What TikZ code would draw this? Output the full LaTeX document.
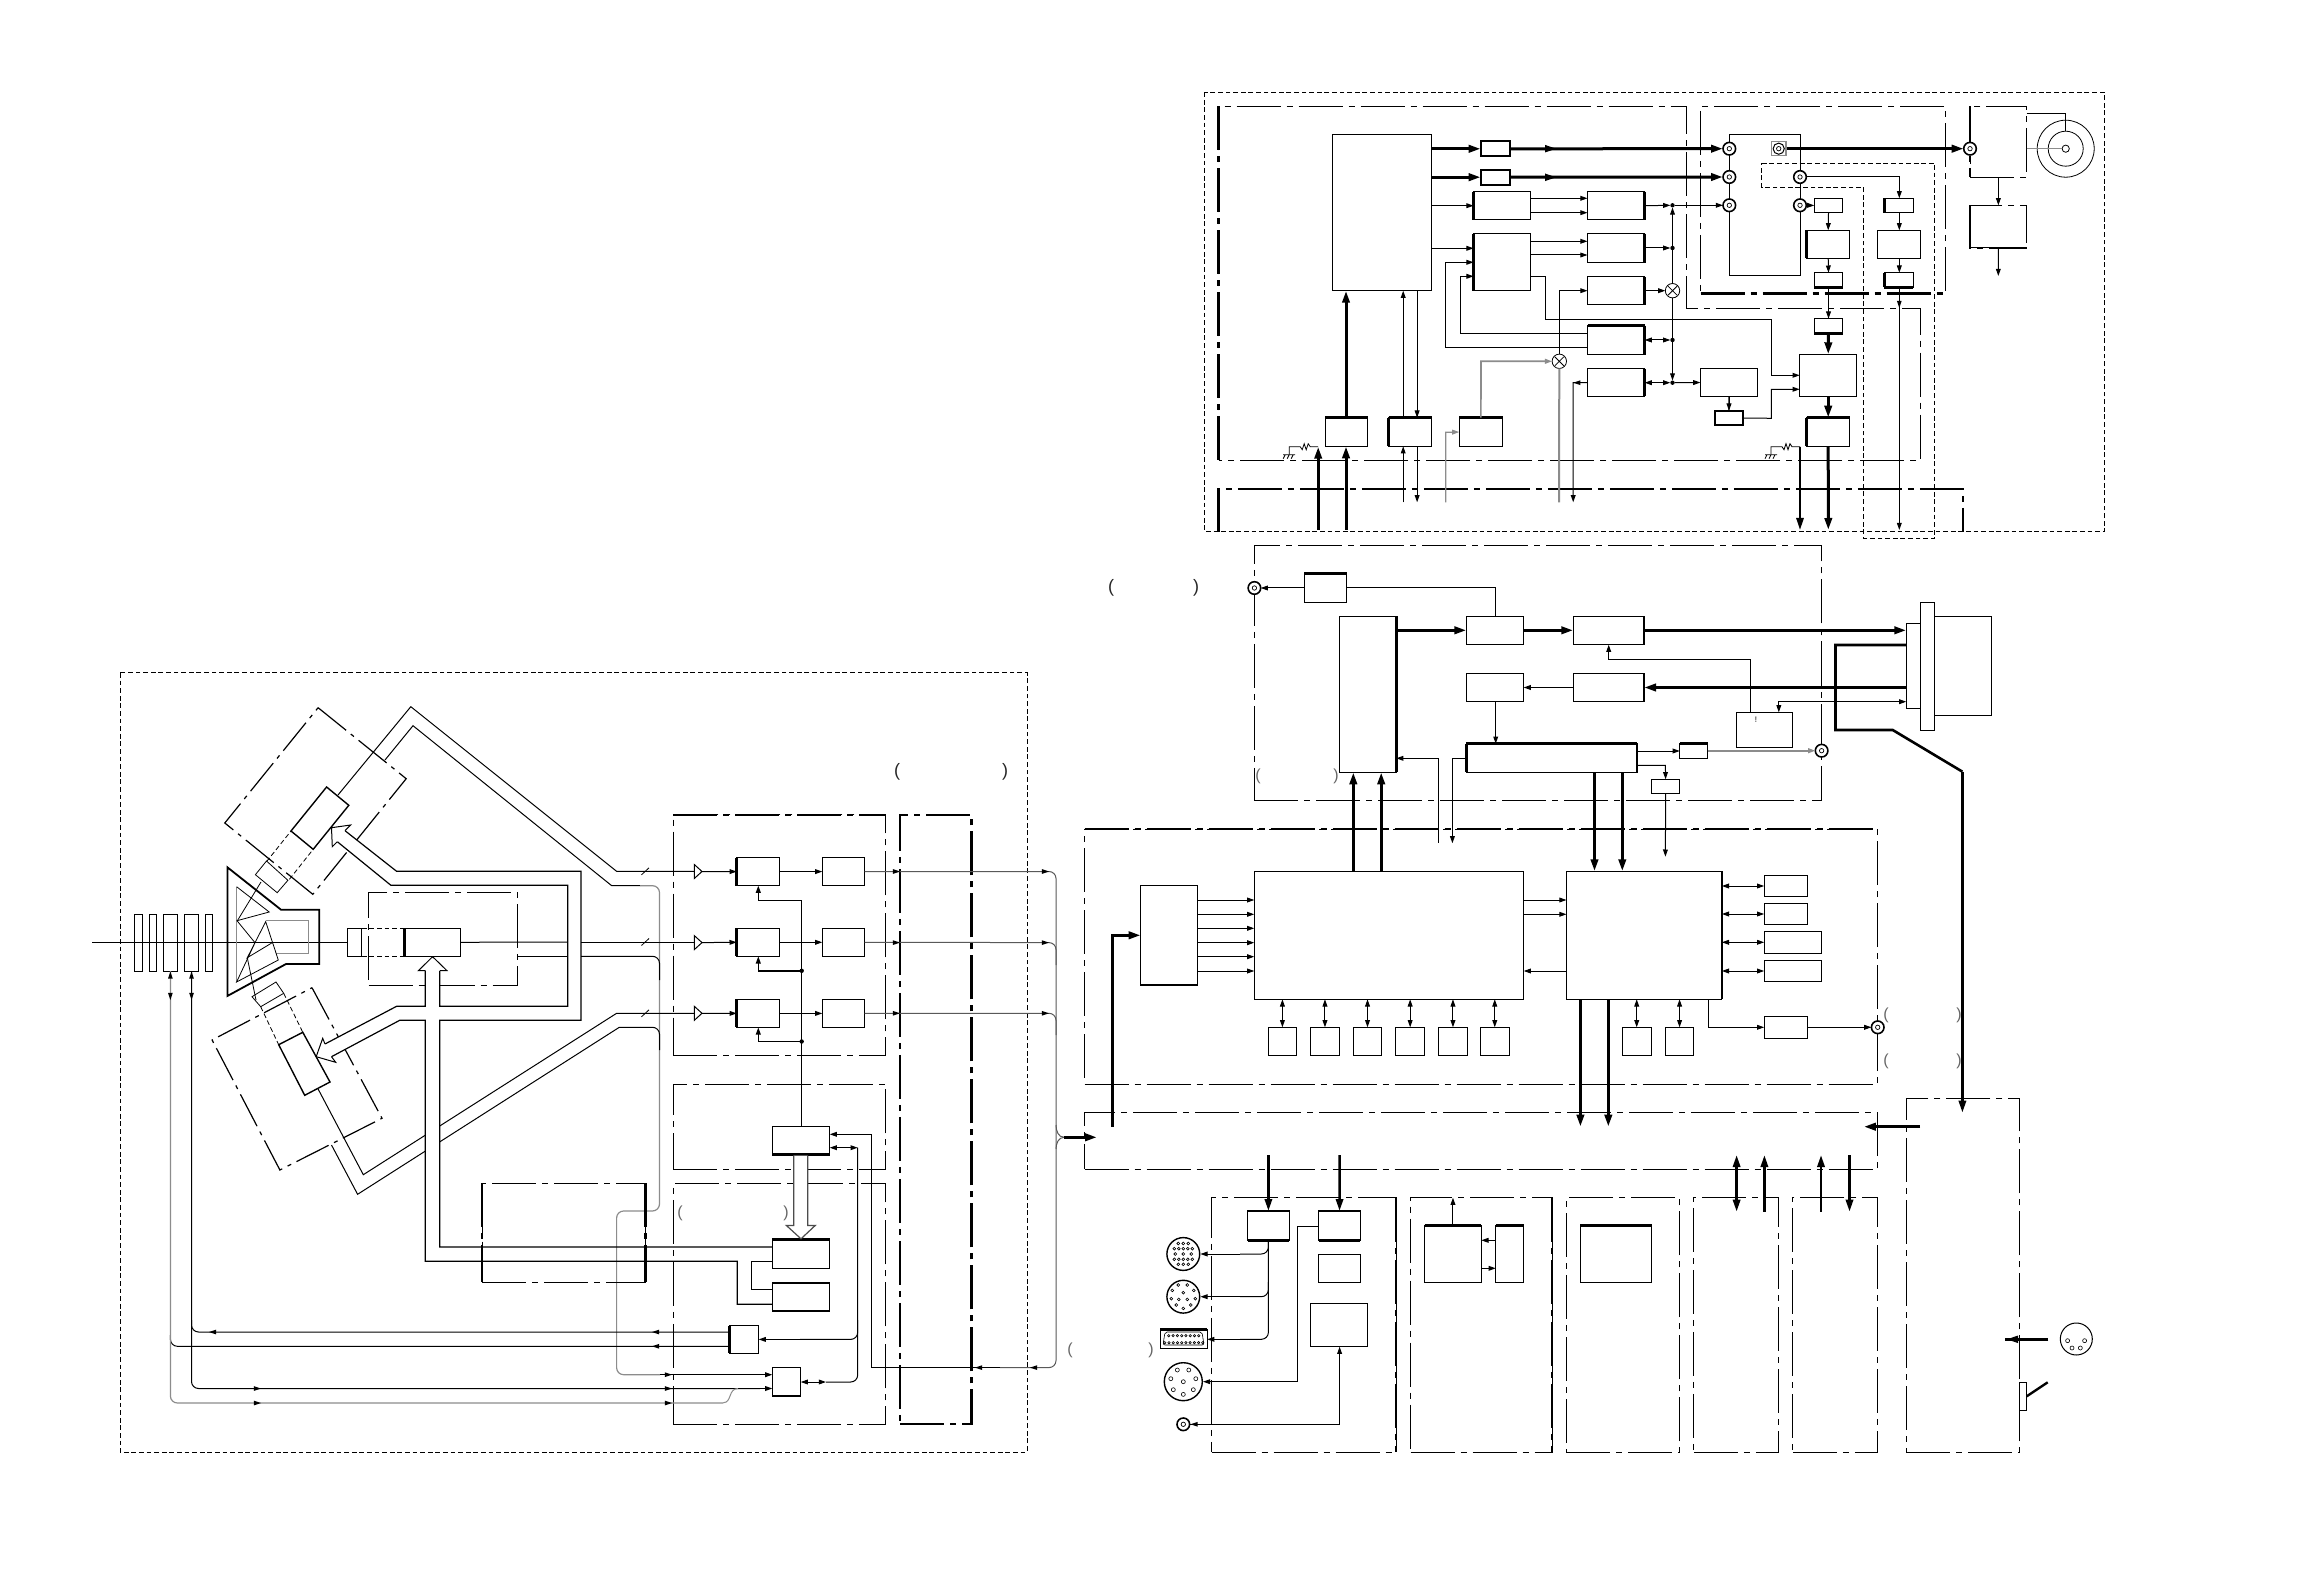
\documentclass[tikz,border=0pt]{standalone}
\usepackage{fontspec}
\setmainfont{Liberation Sans}
\usetikzlibrary{arrows.meta,shapes.geometric}
\colorlet{gl}{black!45}
\tikzset{
 x=0.5pt,y=-0.5pt,
 ln/.style={line width=0.5pt,line join=miter},
 bx/.style={draw,line width=0.6pt,inner sep=0pt,outer sep=0pt,rectangle},
 arr/.style={ln,-{Stealth[length=3.6pt,width=2.4pt,inset=0pt]}},
 dar/.style={ln,{Stealth[length=3.6pt,width=2.4pt,inset=0pt]}-{Stealth[length=3.6pt,width=2.4pt,inset=0pt]}},
 tk/.style={line width=1.5pt},
 tarr/.style={line width=1.5pt,-{Stealth[length=6pt,width=3.6pt,inset=0pt]}},
 tup/.style={line width=1.3pt,-{Stealth[length=6pt,width=3.6pt,inset=0pt]}},
 tdn/.style={line width=1.3pt,{Stealth[length=6pt,width=3.6pt,inset=0pt]}-{Stealth[length=6pt,width=3.6pt,inset=0pt]}},
 dd/.style={line width=0.5pt,dash pattern=on 22pt off 3pt on 3pt off 3pt},
 ddk/.style={line width=1.2pt,dash pattern=on 22pt off 3pt on 3pt off 3pt},
 ddm/.style={line width=0.85pt,dash pattern=on 22pt off 3pt on 3pt off 3pt},
 dsh/.style={line width=0.5pt,dash pattern=on 2.4pt off 1.4pt},
 edge/.style={line width=1.3pt},
 rc/.style={ln,rounded corners=3.5pt},
 cn/.style={circle,draw,fill=white,line width=0.8pt,inner sep=0pt,outer sep=0pt,minimum size=6.3pt},
 xn/.style={circle,draw,fill=white,line width=0.4pt,inner sep=0pt,outer sep=0pt,minimum size=7.2pt},
 dotn/.style={circle,fill=black,inner sep=0pt,outer sep=0pt,minimum size=2.2pt},
 pn/.style={inner sep=0pt,font=\fontsize{8}{8}\selectfont,text=black!60},
 pb/.style={inner sep=0pt,font=\fontsize{9}{9}\selectfont,text=black!85},
}
\def\lpx{(}\def\rpx{)}
\newcommand\bx[6][]{\node[bx,minimum width={(#5-#3)*0.5pt},minimum height={(#6-#4)*0.5pt},#1] (#2) at ({(#3+#5)/2},{(#4+#6)/2}) {};}
\newcommand\hh[4][arr]{\draw[#1] (#2 |- 0,#4) -- (#3 |- 0,#4);}
\newcommand\vv[4][arr]{\draw[#1] (#2 -| #4,0) -- (#3 -| #4,0);}
\newcommand\eL[1]{\draw[edge] (#1.north west) -- (#1.south west);}
\newcommand\eR[1]{\draw[edge] (#1.north east) -- (#1.south east);}
\newcommand\eT[1]{\draw[edge] (#1.north west) -- (#1.north east);}
\newcommand\eB[1]{\draw[edge] (#1.south west) -- (#1.south east);}
\newcommand\ah[3]{\fill[shift={(#1,#2)},rotate=#3] (0pt,0pt) -- (-3.6pt,1.2pt) -- (-3.6pt,-1.2pt) -- cycle;}
\newcommand\ahb[3]{\fill[shift={(#1,#2)},rotate=#3] (0pt,0pt) -- (-5.5pt,1.9pt) -- (-5.5pt,-1.9pt) -- cycle;}
\newcommand\conn[3]{\node[cn] (#1) at (#2,#3) {}; \draw[line width=0.35pt] (#1.center) circle (1.1pt);}
\newcommand\xnode[3]{\node[xn] (#1) at (#2,#3) {}; \draw[line width=0.4pt] ([shift={(-4.5,-4.5)}]#1.center) -- ([shift={(4.5,4.5)}]#1.center) ([shift={(-4.5,4.5)}]#1.center) -- ([shift={(4.5,-4.5)}]#1.center);}
\newcommand\rgnd[2]{\begin{scope}[shift={(#1,#2)}]\draw[line width=0.4pt] (0,0) -- (-8,0) -- (-10,-3) -- (-12,3) -- (-14,-3) -- (-16,3) -- (-18,0) -- (-29,0) -- (-29,8);\draw[line width=0.4pt] (-35,8) -- (-23,8) (-33,8) -- (-35,12) (-29,8) -- (-31,12) (-25,8) -- (-27,12);\end{scope}}
\begin{document}
\begin{tikzpicture}
\useasboundingbox[fill=white] (0,0) rectangle (2324,1588);
%%%%% LEFT: camera block
\draw[dsh] (120,673) rectangle (1027,1452);
% axis
\coordinate (axL) at (92,942);
\foreach \n/\a/\b in {sl1/134.4/142.5,sl2/149.4/156.6,sl3/163.5/177.3,sl4/184.6/198.4,sl5/205.2/212.5}{\bx[line width=0.5pt]{\n}{\a}{914}{\b}{971}}
\coordinate (lensL) at (347.2,942);
\draw[ln] (axL) -- (lensL);
% prism
\draw[line width=0.9pt] (227.4,867.3) -- (281,909.7) -- (319.3,909.7) -- (319.3,964) -- (286,964) -- (227.4,996) -- cycle;
\draw[line width=0.6pt,gl] (236.6,886.7) -- (236.6,982);
\draw[line width=0.6pt,gl] (265.7,920.7) -- (308.6,920.7) -- (308.6,953.3) -- (276,953.3);
\draw[line width=0.4pt] (236.6,886.7) -- (269.2,912) -- (237,920.7) -- (255,942.7) -- (236.6,982) -- (278.3,960) -- (265.7,921.7) -- (247.3,957.7) -- (272.2,942.7);
% upper optical block
\draw[line width=0.6pt,dash pattern=on 18pt off 3pt on 2pt off 3pt] (318.1,707.7) -- (406.2,778.7) -- (312.8,894.3) -- (224.8,823) -- cycle;
\draw[line width=0.4pt] (237.8,920) -- (261,882);
\draw[line width=0.4pt] (255.4,874.7) -- (266.5,861) -- (287.9,880.3) -- (277.2,892.7) -- cycle;
\draw[line width=0.4pt,dash pattern=on 2.4pt off 1.4pt] (266.5,861.7) -- (291,831) (289.4,879.3) -- (313.2,849.3);
\draw[line width=0.7pt] (326.6,787) -- (348.8,805.3) -- (313.2,849.3) -- (291,831) -- cycle;
% lower optical block
\draw[line width=0.6pt,dash pattern=on 18pt off 3pt on 2pt off 3pt] (312,987.7) -- (382,1118.3) -- (279.9,1170) -- (212.1,1040) -- cycle;
\draw[line width=0.4pt] (247.3,957.7) -- (256,1000);
\draw[line width=0.4pt] (252,996.7) -- (276,982) -- (283.7,993.3) -- (260.7,1006.7) -- cycle;
\draw[line width=0.4pt,dash pattern=on 2.4pt off 1.4pt] (260.7,1006.7) -- (278.7,1044.7) (283.7,993.3) -- (302.8,1032.3);
\draw[line width=0.7pt] (302.8,1032.3) -- (330,1082) -- (304.7,1095.3) -- (278.7,1044.7) -- cycle;
% centre block
\bx[dd,fill=none]{cbk}{368.7}{892.3}{517.5}{985}
\bx[line width=0.5pt]{lens}{347.2}{928.3}{361.8}{956.3}
\bx[line width=0.7pt]{cs}{404.2}{928.3}{460.5}{956.3}
\draw[dsh] (lens.north east) -- (cs.north west) (lens.south east) -- (cs.south west);
\eL{cs}
\draw[ln] (cs.east) -- (567.7,942);
% ducts to the triangles
\coordinate (tr1) at (702,871.5); \coordinate (tr2) at (702,942.6); \coordinate (tr3) at (702,1013.3);
\bx{expa}{772.3}{1239.7}{829.7}{1268.3}
\bx{expb}{772.3}{1283}{829.7}{1310.8}
\draw[ln] (338,795) -- (410.8,706.7) -- (616.6,871.3) -- (694.3,871.3);
\draw[ln] (385,760) -- (413,725.7) -- (611.7,885.7) -- (640,885.7);
\draw[rc,gl,line width=0.6pt] (640,885.7) -- (659.5,885.7) -- (659.5,1211) -- (616.6,1211) -- (616.6,1374.7) -- (660,1374.7);
\draw[ln] (517.5,956.3) -- (567.7,956.3);
\draw[rc] (581,956.3) -- (659.5,956.3) -- (659.5,980);
\draw[ln] (318.1,1089) -- (363.3,1174.7) -- (616.6,1013.3) -- (694.3,1013.3);
\draw[ln] (331.5,1145) -- (357.6,1194.3) -- (619.3,1027.3) -- (640,1027.3);
\draw[rc] (640,1027.3) -- (659.5,1027.3) -- (659.5,1050);
\draw[ln] (581,942) -- (694.3,942);
\foreach \y in {871.3,942,1013.3}{\draw[line width=0.4pt] (641.5,\y+3.5) -- (649,\y-3.5);}
% masks & hollow arrows
\fill[white] (425.8,971) rectangle (439.3,1247);
\fill[white] (345,830.7) -- (396.6,871.3) -- (390.9,885.3) -- (337.3,841.7) -- cycle;
\fill[white] (325,1044) -- (396.6,1006.3) -- (399.7,1020.3) -- (331.5,1056.7) -- cycle;
\draw[line width=0.6pt] (345,830.7) -- (396.6,871.3) -- (581,871.3) -- (581,1020.3) -- (439.8,1020.3) -- (439.8,1247) -- (expa.west |- 0,1247);
\draw[line width=0.6pt] (337.3,841.7) -- (390.9,885.3) -- (567.7,885.3) -- (567.7,1006.3) -- (439.8,1006.3) -- (439.8,970.7);
\draw[line width=0.5pt,fill=white] (439.8,970.7) -- (447,970.7) -- (432.6,956.7) -- (418.4,970.7) -- (425.3,970.7);
\draw[line width=0.6pt] (425.3,970.7) -- (425.3,1006.3) -- (396.6,1006.3) -- (325,1044);
\draw[line width=0.5pt,fill=white] (325,1044) -- (322.7,1038.3) -- (316.2,1056.7) -- (335.7,1062.3) -- (331.5,1056.7);
\draw[line width=0.6pt] (331.5,1056.7) -- (399.7,1020.3) -- (425.3,1020.3) -- (425.3,1261.3) -- (737.3,1261.3) -- (737.3,1304.3) -- (expb.west |- 0,1304.3);
\draw[line width=0.5pt,fill=white] (345,830.7) -- (350.7,825) -- (331.5,827.7) -- (332.3,846.7) -- (337.3,841.7);
% dash-dot block H
\bx[dd]{hb}{482}{1183.3}{645.3}{1282.3}
\draw[ddk] (482,1183.3) -- (482,1282.3);
\draw[ddk] (645.3,1183.3) -- (645.3,1282.3);
%%%%% processing column
\bx[dd]{pa}{673.3}{814.7}{885.7}{1055}
\draw[ddk] (pa.north west) -- (pa.north east);
\bx[dd]{pb}{673.3}{1084.4}{885.7}{1169}
\bx[dd]{pc}{673.3}{1183.3}{885.7}{1424}
\bx[ddk]{pd}{900}{814.7}{971.3}{1424}
\foreach \t/\y in {tr1/871.5,tr2/942.6,tr3/1013.3}{\draw[line width=0.5pt,fill=white] (694.3,\y-7) -- (\t) -- (694.3,\y+7) -- cycle;}
\foreach \n/\c/\y in {r1/p1/857.6,r2/p2/928.3,r3/p3/999.4}{
 \bx{\n}{736.7}{\y}{779.7}{\y+28}
 \bx{\c}{822.3}{\y}{864.7}{\y+28}
 \eL{\n}
 \draw[arr] (\n.east) -- (\c.west);
}
\draw[arr] (tr1) -- (r1.west);
\draw[arr] (tr2) -- (r2.west);
\draw[arr] (tr3) -- (r3.west);
\bx{ee}{772.3}{1126.5}{829.7}{1154.7}\eB{ee}
\draw[line width=0.7pt] (ee.north -| 801.7,0) -- (801.7,900.6) -- (758.3,900.6);
\draw[arr,line width=0.7pt] (758.3,900.6) -- (r1.south -| 758.3,0);
\node[dotn] (j2) at (801.7,970.8) {};
\node[dotn] (j3) at (801.7,1041.5) {};
\draw[arr,line width=0.7pt] (j2) -- (758.3,970.8) -- (r2.south -| 758.3,0);
\draw[arr,line width=0.7pt] (j3) -- (758.3,1041.5) -- (r3.south -| 758.3,0);
% exposure boxes
\eT{expa}\eB{expb}
\draw[line width=0.6pt,fill=white,draw=black!70] (793.7,1155.5) -- (793.7,1225.4) -- (786.3,1225.4) -- (801,1238.8) -- (815.3,1225.4) -- (807.7,1225.4) -- (807.7,1155.5);
\draw[line width=0.7pt] (expa.west |- 0,1261.3) -- (751.7,1261.3) -- (751.7,1289.6) -- (expb.west |- 0,1289.6);
\bx{gg}{729.3}{1325.5}{758.7}{1353.3}\eL{gg}
\bx{ff}{772.3}{1367.6}{800.7}{1395.8}\eB{ff}
% brace and control lines
\draw[rc,black!65] (p1.east) -- (1056,871.5) -- (1056,1367.6) -- (1000,1367.6);
\draw[ln] (1000,1367.6) -- (871.3,1367.6) -- (871.3,1134.3);
\draw[arr] (871.3,1134.3) -- (ee.east |- 0,1134.3);
\draw[rc,black!65] (p2.east) -- (1056,942.6) -- (1056,965);
\draw[rc,black!65] (p3.east) -- (1056,1013.3) -- (1056,1035);
\foreach \y in {871.5,942.6,1013.3}{\ah{1049}{\y}{0}\ah{900}{\y}{0}}
\ah{975}{1367.6}{180}\ah{1030}{1367.6}{180}
\coordinate (brm) at (1064,1137.3);
\draw[ln,black!65] (1056,1125) to[out=270,in=180] (brm);
\draw[ln,black!65] (1056,1149) to[out=90,in=180] (brm);
\coordinate (jin) at (1097,1137.3);
\draw[tarr] (brm) -- (jin);
\draw[dar] (ee.east |- 0,1147.7) -- (857.7,1147.7);
\draw[rc] (857.7,1147.7) -- (857.7,1382) -- (826,1382);
\draw[dar] (826,1382) -- (ff.east |- 0,1382);
\draw[rc] (857.7,1320) -- (857.7,1339.4) -- (800,1339.4);
\draw[arr] (800,1339.4) -- (gg.east |- 0,1339.4);
\draw[rc] (gg.west |- 0,1332) -- (191.5,1332) -- (191.5,1320);
\draw[rc] (gg.west |- 0,1346.3) -- (170.4,1346.3) -- (170.4,1335);
\ah{652}{1332}{180}\ah{209}{1332}{180}\ah{652}{1346.3}{180}
\draw[rc,gl,line width=0.6pt] (sl3.south -| 170.4,0) -- (170.4,1403) -- (723.3,1403);
\draw[rc,line width=0.5pt] (sl4.south -| 191.5,0) -- (191.5,1388.5) -- (760,1388.5);
\draw[arr] (760,1388.5) -- (ff.west |- 0,1388.5);
\draw[arr] (660,1374.7) -- (ff.west |- 0,1374.7);
\draw[ln,gl] (723.3,1402.7) .. controls (732,1402.7) and (728,1388.5) .. (738,1388.5);
\foreach \x in {170.4,191.5}{\ah{\x}{971.5}{90}\ah{\x}{1000}{270}}
\ah{261}{1388.5}{0}\ah{261}{1403}{0}\ah{672}{1388.5}{0}\ah{672}{1403}{0}\ah{672}{1374.7}{0}
%%%%% parens
\foreach \t/\x/\y in {\lpx/897/772,\rpx/1005/772,\lpx/1111/588,\rpx/1196/588}{\node[pb] (pp\x) at (\x,\y) {\t};}
\foreach \t/\x/\y in {\lpx/680/1213,\rpx/786/1213,\lpx/1070/1350,\rpx/1151/1350,\lpx/1258/776,\rpx/1336/776,\lpx/1886/1015,\rpx/1959/1015,\lpx/1886/1061,\rpx/1959/1061}{\node[pn] (pq\x\y) at (\x,\y) {\t};}
%%%%% TOP block
\draw[dsh] (1204.6,92.3) rectangle (2104.3,531.7);
\draw[dd] (1218.6,460.3) -- (1218.6,106.3) -- (1686.4,106.3) -- (1686.4,308.7) -- (1920.3,308.7) -- (1920.3,460.3) -- cycle;
\draw[ddk] (1218.6,106.3) -- (1218.6,460.3);
\draw[ddk] (1218.6,531.7) -- (1218.6,489) -- (1963,489) -- (1963,531.7);
\bx[dd]{ta2}{1700.7}{106.3}{1945.7}{293.7}
\draw[ddk] (ta2.south west) -- (ta2.south east);
\draw[dsh] (1761.7,163.3) -- (1934.7,163.3) -- (1934.7,538.3) -- (1863.7,538.3) -- (1863.7,187.3) -- (1761.7,187.3) -- cycle;
\bx[dd]{b3}{1970}{106.3}{2026.7}{177.3}
\draw[ddk] (b3.north west) -- (b3.south west);
\bx[dd]{b4}{1970}{205.3}{2026.7}{248}
\draw[ddk] (b4.north west) -- (b4.south west) -- (b4.south east);
\draw[arr] (b3.south) -- (b4.north);
\coordinate (b4o) at (1998.3,276);
\draw[arr] (b4.south) -- (b4o);
% disc
\node[circle,draw,line width=0.4pt,minimum size=28.5pt,inner sep=0pt] (dc) at (2065.7,148.7) {};
\node[circle,draw,line width=0.4pt,minimum size=17.5pt,inner sep=0pt] (dcm) at (2065.7,148.7) {};
\node[circle,draw,fill=white,line width=0.4pt,minimum size=3.6pt,inner sep=0pt] (dci) at (2065.7,148.7) {};
\draw[gl,ln] (b3.east |- dci) -- (dci);
\draw[ln] (b3.east |- 0,113.3) -- (2065.7,113.3) -- (2065.7,131.3);
% big chain
\bx{big}{1332.5}{134.3}{1431.8}{290.7}
\bx[line width=1pt]{s1}{1480.7}{141.3}{1509.6}{156.3}
\bx[line width=1pt]{s2}{1480.7}{169.7}{1509.6}{184.7}
\bx{bb1}{1473.6}{191.7}{1530.7}{219.7}\eL{bb1}
\bx{bb2}{1473.6}{233.7}{1530.7}{290.7}\eL{bb2}
\bx{c1}{1587.5}{191.7}{1644.6}{219.7}\eR{c1}
\bx{c2}{1587.5}{233.7}{1644.6}{262.7}\eR{c2}
\bx{c3}{1587.5}{276.7}{1644.6}{304.7}\eR{c3}
\bx{c4}{1587.5}{325.7}{1644.6}{354.7}\eR{c4}\eT{c4}
\bx{c5}{1587.5}{368.7}{1644.6}{396.3}\eR{c5}
\bx{dd1}{1700.4}{368.7}{1757.5}{396.3}
\bx[line width=1pt]{ee1}{1714.6}{410.7}{1743.2}{425.3}
\bx{f1}{1325.4}{417.7}{1367.5}{446.3}\eT{f1}
\bx{f2}{1388.6}{417.7}{1431.8}{446.3}\eT{f2}\eL{f2}
\bx{f3}{1459.3}{417.7}{1502.5}{446.3}\eT{f3}
\draw[ln] (1729.3,148.7) -- (1729.3,134.3) -- (1800,134.3) -- (1800,177);
\draw[ln] (1729.3,148.7) -- (1729.3,276) -- (1800,276) -- (1800,177);
\conn{k1}{1729.3}{148.7}\conn{k2}{1729.3}{177}\conn{k3}{1729.3}{205.3}\conn{k4}{1800}{177}\conn{k5}{1800}{205.3}
\conn{k6}{1970}{148.7}
\node[draw=gl,fill=white,line width=0.6pt,minimum size=7.2pt,inner sep=0pt] (sq) at (1778.7,148.7) {};
\node[cn,minimum size=5.6pt,line width=0.5pt] (sqc) at (1778.7,148.7) {};
\draw[line width=0.35pt] (sqc.center) circle (1.1pt);
\draw[tarr] (big.east |- s1) -- (s1.west);
\draw[tarr] (big.east |- s2) -- (s2.west);
\draw[tarr] (s1.east) -- (k1.west);
\draw[tarr] (s2.east) -- (k2.west);
\ahb{1556}{148.7}{0}\ahb{1556}{177.3}{0}
\draw[tarr] (sq.east) -- (k6.west);
\draw[arr] (big.east |- bb1) -- (bb1.west);
\draw[arr] (big.east |- 0,248.3) -- (bb2.west |- 0,248.3);
\hh{bb1.east}{c1.west}{198.3}\hh{bb1.east}{c1.west}{212.7}
\hh{bb2.east}{c2.west}{241.3}\hh{bb2.east}{c2.west}{255}
% feedback
\draw[arr] (c4.west |- 0,333.3) -- (1460.7,333.3) -- (1460.7,276.3) -- (bb2.west |- 0,276.3);
\draw[arr] (c4.west |- 0,347.3) -- (1445.7,347.3) -- (1445.7,262.3) -- (bb2.west |- 0,262.3);
\xnode{x1}{1559.3}{361.3}
\xnode{x2}{1672.5}{290.7}
\draw[arr] (x1) -- (1559.3,290.7) -- (c3.west);
\draw[arr,gl,line width=0.8pt] (f3.north) -- (1481,361.3) -- (x1.west);
\coordinate (gbot) at (1559,502.3);
\draw[gl,line width=1pt] (x1.south) -- (gbot);
\coordinate (cbot) at (1573.2,502.3);
\draw[arr] (c5.west) -- (1573.2,382.7) -- (cbot);
\ah{1573.2}{382.7}{180}
\draw[arr] (c3.east) -- (x2.west);
\node[dotn] (n1) at (1672.5,205.3) {};
\node[dotn] (n2) at (1672.5,248) {};
\node[dotn] (n3) at (1672.5,340) {};
\node[dotn] (n4) at (1672.5,382.7) {};
\draw[arr] (x2.north) -- (n1);
\draw[arr] (x2.south) -- (n4);
\draw[dar] (c4.east |- n3) -- (n3);
\draw[dar] (c5.east |- n4) -- (n4);
\draw[arr] (n4) -- (dd1.west);
\draw[arr] (c2.east |- n2) -- (n2);
\draw[arr] (c1.east) -- (n1);
\draw[arr] (n1) -- (k3.west);
\draw[arr] (dd1.south -| 1729,0) -- (ee1.north -| 1729,0);
% right chain
\bx{t1}{1814.3}{198.3}{1842.7}{212.7}
\bx{t2}{1884.3}{198.3}{1913.3}{212.7}\eL{t2}
\bx{t3}{1806.7}{230.3}{1849.7}{258.3}\eL{t3}
\bx{t4}{1877.3}{230.3}{1920.7}{258.3}
\bx{t5}{1814.3}{272.7}{1842.7}{287.3}\eB{t5}
\bx{t6}{1884.3}{272.7}{1913.3}{287.3}\eL{t6}\eB{t6}
\bx{t7}{1814.3}{318.7}{1842.7}{333.3}\eB{t7}
\bx{t8}{1799.7}{354.3}{1856.7}{396.3}
\bx{t9}{1806.7}{417.7}{1849.7}{446.3}\eT{t9}\eL{t9}
\draw[arr] (k5.east) -- (t1.west);
\draw[arr] (t1.south) -- (t3.north);
\draw[arr] (t3.south) -- (t5.north);
\draw[arr] (t5.south) -- (t7.north);
\draw[tarr] (t7.south) -- (t8.north);
\draw[tarr] (t8.south) -- (t9.north);
\coordinate (t9o) at (1828.3,530);
\draw[tarr] (t9.south) -- (t9o);
\coordinate (t9p) at (1800,530);
\draw[tarr,line width=1.1pt] (1800,446.7) -- (t9p);
\rgnd{1800}{446.7}
\draw[arr] (k4.east) -- (1899.3,177) -- (t2.north -| 1899.3,0);
\draw[arr] (t2.south -| 1899.3,0) -- (t4.north -| 1899.3,0);
\draw[arr] (t4.south -| 1899.3,0) -- (t6.north -| 1899.3,0);
\coordinate (t6o) at (1899.3,530);
\draw[arr] (t6.south -| 1899.3,0) -- (t6o);
\ah{1899.3}{308}{270}
\draw[arr] (bb2.east |- 0,276.3) -- (1545.7,276.3) -- (1545.7,319.3) -- (1771.3,319.3) -- (1771.3,375.3) -- (t8.west |- 0,375.3);
\draw[arr] (ee1.east) -- (1771.3,418.3) -- (1771.3,389.3) -- (t8.west |- 0,389.3);
\draw[ln] (dd1.south) -- (ee1.north);
% bottom of big
\coordinate (bi1) at (1346,530);
\coordinate (bi2) at (1318.2,530);
\draw[tarr] (f1.north -| 1346,0) -- (big.south -| 1346,0);
\draw[tarr] (bi1) -- (f1.south -| 1346,0);
\draw[tarr] (bi2) -- (1318.2,446.7);
\rgnd{1318.2}{446.7}
\draw[arr] (f2.north -| 1403.2,0) -- (big.south -| 1403.2,0);
\draw[arr] (big.south -| 1417.1,0) -- (f2.north -| 1417.1,0);
\coordinate (bi3) at (1403.2,502.3);
\coordinate (bi4) at (1417.1,502.3);
\draw[arr] (bi3) -- (f2.south -| 1403.2,0);
\draw[arr] (f2.south -| 1417.1,0) -- (bi4);
\coordinate (bi5) at (1445.7,502.3);
\draw[arr,gl,line width=0.6pt] (bi5) -- (1445.7,432.3) -- (f3.west);
%%%%% MIDDLE block
\bx[dd]{mbk}{1254.4}{545.3}{1821.6}{800.3}
\conn{m1}{1254.4}{588}
\conn{m2}{1821.6}{750.7}
\bx{q1}{1304.2}{573.7}{1346.5}{602.3}\eT{q1}
\bx{tall}{1339.5}{616.3}{1396.2}{772.3}\eR{tall}
\bx{w1}{1466.4}{616.3}{1523.6}{644.7}
\bx{w2}{1573.3}{616.3}{1644}{644.7}
\bx{w3}{1466.4}{673.3}{1523.6}{701.7}
\bx{w4}{1573.3}{673.3}{1644}{701.7}
\bx{wide}{1466.4}{743.7}{1637}{772.3}\eT{wide}\eL{wide}
\bx{wsm}{1679.8}{743.7}{1707.7}{758.7}\eT{wsm}
\bx{wsb}{1651.4}{779.3}{1679.8}{793.7}
\bx{wq}{1736.5}{712.3}{1792.7}{747.3}
\node[inner sep=0pt,font=\fontsize{4}{4}\selectfont] (wqt) at (1756,720) {!};
\draw[arr] (q1.west) -- (m1.east);
\draw[ln] (q1.east) -- (1495.7,588) -- (w1.north -| 1495.7,0);
\draw[tarr] (tall.east |- 0,630.3) -- (w1.west |- 0,630.3);
\draw[tarr] (w1.east |- 0,630.3) -- (w2.west |- 0,630.3);
\bx{hs1}{1906.3}{623.3}{1920.3}{708.3}
\bx{hs2}{1920.3}{602.3}{1934.7}{730.3}
\bx{hs3}{1934.7}{616.3}{1991.7}{715.3}
\draw[tarr] (w2.east |- 0,630.3) -- (hs1.west |- 0,630.3);
\draw[tarr] (hs1.west |- w4) -- (w4.east);
\draw[arr] (w4.west) -- (w3.east);
\draw[arr] (w3.south -| 1495.7,0) -- (wide.north -| 1495.7,0);
\draw[arr] (wq.north -| 1750.4,0) -- (1750.4,659.3) -- (1608.7,659.3) -- (w2.south -| 1608.7,0);
\draw[dar] (wq.north -| 1778.8,0) -- (1778.8,701.7) -- (hs1.west |- 0,701.7);
\draw[line width=1.3pt] (hs1.west |- 0,645) -- (1835.5,645) -- (1835.5,730) -- (1892.7,730) -- (1962.4,771.7);
\coordinate (xin) at (1962.4,1112.7);
\draw[tup] (1962.4,771.7) -- (xin);
\draw[arr] (wide.east |- 0,751) -- (wsm.west |- 0,751);
\draw[arr,gl,line width=0.8pt] (wsm.east |- 0,750.7) -- (m2.west);
\draw[arr] (wide.east |- 0,765.3) -- (1665.4,765.3) -- (wsb.north);
\coordinate (wsbo) at (1665.4,856.7);
\draw[arr] (wsb.south) -- (wsbo);
%%%%% MAIN block
\bx[dd]{ibk}{1084.5}{829}{1877.2}{1084.3}
\draw[ddk] (ibk.north west) -- (ibk.north east);
\bx[dd]{jbk}{1084.5}{1112.3}{1877.2}{1169.3}
\bx{kk}{1140.7}{885.7}{1197.5}{985}\eB{kk}
\bx{ll}{1254.3}{871.3}{1523.7}{999.3}
\bx{mm}{1566.5}{871.3}{1721.8}{999.3}\eR{mm}
\coordinate (ksrc) at (1112.3,1126.7);
\draw[tarr] (ksrc) -- (1112.3,935.3) -- (kk.west |- 0,935.3);
\foreach \y in {900,914.3,928.3,942.7,956.7,971}{\draw[arr] (kk.east |- 0,\y) -- (ll.west |- 0,\y);}
\hh{ll.east}{mm.west}{900}\hh{ll.east}{mm.west}{914.3}
\hh{mm.west}{ll.east}{971}
\foreach \n/\a/\b in {u1/1268.2/1296.6,u2/1310.5/1339.4,u3/1353.3/1381.7,u4/1395.7/1424.6,u5/1438.5/1467.4,u6/1480.3/1509.2,u7/1622.2/1651.2,u8/1665.6/1693.5}{\bx{\n}{\a}{1027.3}{\b}{1055.7}}
\foreach \n in {u1,u2,u3,u4,u5,u6}{\draw[dar] (\n.north) -- (ll.south -| \n.north);}
\foreach \n in {u7,u8}{\draw[dar] (\n.north) -- (mm.south -| \n.north);}
\bx{v1}{1764.2}{875.3}{1807.6}{896.7}
\bx{v2}{1764.2}{903.3}{1807.6}{924.7}
\bx{v3}{1764.2}{931.3}{1821.5}{953.3}
\bx{v4}{1764.2}{960.3}{1821.5}{981.7}
\bx{v5}{1764.2}{1016.3}{1807.6}{1038.7}
\foreach \n in {v1,v2,v3,v4}{\draw[dar] (mm.east |- \n.west) -- (\n.west);}
\conn{m3}{1877.7}{1027.3}
\draw[arr] (mm.south -| 1708.5,0) -- (1708.5,1027.3) -- (v5.west |- 0,1027.3);
\draw[arr] (v5.east |- m3) -- (m3.west);
% links between blocks
\draw[tarr] (ll.north -| 1353.3,0) -- (tall.south -| 1353.3,0);
\draw[tarr] (ll.north -| 1381.2,0) -- (tall.south -| 1381.2,0);
\draw[tarr] (wide.south -| 1594.5,0) -- (mm.north -| 1594.5,0);
\draw[tarr] (wide.south -| 1622.3,0) -- (mm.north -| 1622.3,0);
\coordinate (mt1) at (1438.5,842.7);
\draw[arr] (mt1) -- (1438.5,758.3) -- (tall.east |- 0,758.3);
\coordinate (mt2) at (1452.4,843.3);
\draw[arr] (wide.west |- 0,758.3) -- (1452.4,758.3) -- (mt2);
\coordinate (mb1) at (1580.4,1126.7);
\coordinate (mb2) at (1608.3,1126.7);
\draw[tarr] (mm.south -| 1580.4,0) -- (mb1);
\draw[tarr] (mm.south -| 1608.3,0) -- (mb2);
\coordinate (mb3) at (1863.8,1126.7);
\coordinate (xwst) at (1920,1126.7);
\draw[tarr] (xwst) -- (mb3);
%%%%% BOTTOM panels
\bx[dd]{ps}{1211.7}{1197.7}{1396.3}{1452.3}
\bx[dd]{pt}{1410.7}{1197.7}{1552}{1452.3}
\draw[ddm] (pt.north east) -- (pt.south east);
\draw[ddm] (ps.north east) -- (ps.south east);
\bx[dd]{pu}{1566.4}{1197.7}{1679.4}{1452.3}
\bx[dd]{pv}{1693.8}{1197.7}{1778.4}{1452.3}
\bx[dd]{pw}{1792.8}{1197.7}{1877.3}{1452.3}
\bx[dd]{px}{1906.3}{1098.3}{2019.3}{1452.3}
\bx{oo}{1247.5}{1211}{1289.3}{1240.3}\eB{oo}
\bx{pp}{1318.7}{1211}{1360.4}{1240.3}\eB{pp}
\bx{qq}{1318.7}{1254.3}{1360.4}{1282.7}
\bx{rr}{1310.7}{1303.3}{1367.4}{1346.7}
\bx{tb}{1424.6}{1225.7}{1481.3}{1282.7}\eT{tb}
\bx{ts}{1495.8}{1225.7}{1523.6}{1282.7}\eT{ts}
\bx{ub}{1580.4}{1225.7}{1651.5}{1282.7}\eT{ub}
\coordinate (jt1) at (1268.4,1155);
\coordinate (jt2) at (1339.6,1155);
\draw[tup] (jt1) -- (oo.north);
\draw[tup] (jt2) -- (pp.north);
\draw[arr] (tb.north) -- (tb.north |- ps.north);
\hh{ts.west}{tb.east}{1240.3}
\hh{tb.east}{ts.west}{1268.3}
\foreach \n/\x/\ya/\yb in {vv1/1736.6/1155/1211.7,vv2/1764.4/1155/1211.7,ww1/1821/1155/1211.7,ww2/1849.5/1155/1211.7}{\coordinate (\n a) at (\x,\ya);\coordinate (\n b) at (\x,\yb);}
\draw[tdn] (vv1a) -- (vv1b);
\draw[tup] (vv2b) -- (vv2a);
\draw[tup] (ww1b) -- (ww1a);
\draw[tup] (ww2a) -- (ww2b);
% connectors
\node[circle,draw,line width=0.7pt,minimum size=16.4pt,inner sep=0pt] (cc1) at (1183.3,1254) {};
\foreach \a/\b in {-5/-10.5,0/-10.5,5/-10.5,-9/-5.3,-4.5/-5.3,0/-5.3,4.5/-5.3,9/-5.3,-8/0,0/0,8/0,-9/5.3,-4.5/5.3,0/5.3,4.5/5.3,9/5.3,-5/10.3,0/10.3,5/10.3}{\draw[line width=0.3pt] ([shift={(\a,\b)}]cc1.center) circle (0.7pt);}
\node[circle,draw,line width=0.7pt,minimum size=16.4pt,inner sep=0pt] (cc2) at (1183.3,1296.7) {};
\foreach \a/\b in {-5/-11.7,4/-11.7,-11/-6.3,10.5/-6.3,0/-4,-12/2,-4.5/2.7,4/2.7,12/2,-7/8.3,7.5/8.3,0/11.7}{\draw[line width=0.3pt] ([shift={(\a,\b)}]cc2.center) circle (0.7pt);}
\bx{cc3}{1160.4}{1329.3}{1207.2}{1348.7}\eT{cc3}
\draw[line width=0.3pt,rounded corners=1pt] (1165,1332) -- (1202,1332) -- (1204,1345) -- (1163,1345) -- cycle;
\foreach \a in {-15,-10.7,-6.4,-2.1,2.1,6.4,10.7,15}{\draw[line width=0.3pt] ([shift={(\a,-3.3)}]cc3.center) circle (0.6pt);}
\foreach \a in {-19,-14.8,-10.6,-6.3,-2.1,2.1,6.3,10.6,14.8,19}{\draw[line width=0.3pt] ([shift={(\a,3.7)}]cc3.center) circle (0.6pt);}
\node[circle,draw,line width=0.7pt,minimum size=19pt,inner sep=0pt] (cc4) at (1183.3,1381.7) {};
\foreach \a/\b in {-6/-11.7,5.5/-11.7,-12.5/-3,12.5/-3,0/0,-10/8,10/8,0/12.7}{\draw[line width=0.3pt] ([shift={(\a,\b)}]cc4.center) circle (1pt);}
\conn{cc5}{1183.3}{1424.3}
\draw[rc] (oo.south) -- (1268.4,1339.3) -- (1240,1339.3);
\draw[arr] (1240,1339.3) -- (cc3.east |- 0,1339.3);
\draw[rc] (1268.4,1240) -- (1268.4,1254) -- (1240,1254);
\draw[arr] (1240,1254) -- (cc1.east);
\draw[rc] (1268.4,1282) -- (1268.4,1296.7) -- (1240,1296.7);
\draw[arr] (1240,1296.7) -- (cc2.east);
\draw[arr] (pp.west |- 0,1226.7) -- (1297.8,1226.7) -- (1297.8,1381.7) -- (cc4.east);
\draw[arr] (cc5.east) -- (1339.6,1424.3) -- (rr.south -| 1339.6,0);
\ah{1190.5}{1424.3}{180}
% mic
\node[circle,draw,line width=0.5pt,minimum size=16pt,inner sep=0pt] (mic) at (2076.3,1339) {};
\foreach \a/\b in {-8.7/1.7,8.3/1.7,-4.3/9,4/9}{\draw[line width=0.3pt] ([shift={(\a,\b)}]mic.center) circle (1pt);}
\coordinate (mica) at (2048.3,1339.3);
\coordinate (micb) at (2005,1339.3);
\draw[line width=1.5pt] (mica) -- (micb);
\ahb{2007}{1339.3}{180}
\bx[line width=0.5pt]{mrc}{2019.3}{1382.3}{2026.7}{1410.3}
\coordinate (mrt) at (2047.7,1382.3);
\draw[line width=1.2pt] (mrc.east) -- (mrt);
\end{tikzpicture}
\end{document}
